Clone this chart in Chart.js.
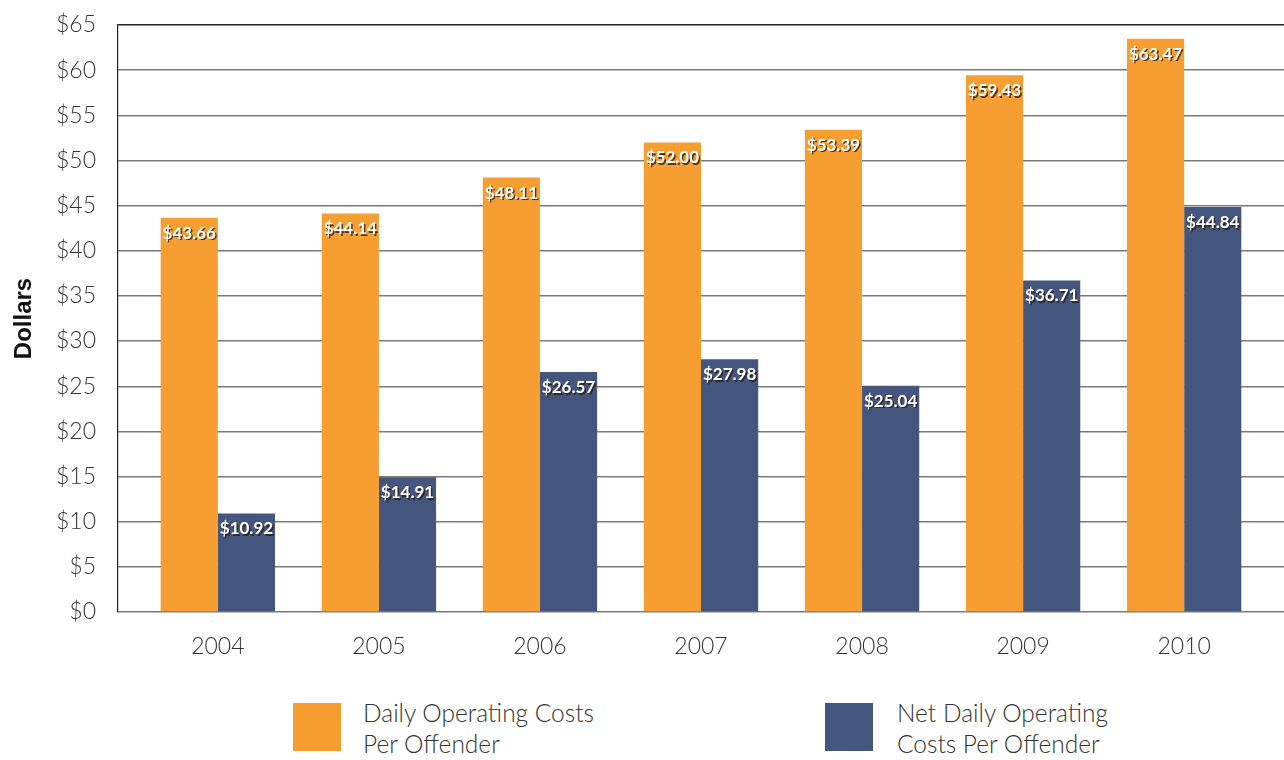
<!DOCTYPE html>
<html>
<head>
<meta charset="utf-8">
<script src="https://cdn.jsdelivr.net/npm/chart.js@4.4.1/dist/chart.umd.min.js"></script>
<style>
  body { margin: 0; background: #fff; }
  #wrap { position: relative; width: 1284px; height: 760px; }
  #box { position: absolute; left: 0; top: 0; width: 1284px; height: 680px; }
  .sw { position: absolute; width: 48px; height: 48px; top: 703px; }
  .lt { position: absolute; top: 697px; font-family: Lato, sans-serif; font-weight: 300;
        font-size: 24.5px; line-height: 31px; color: #333; }
</style>
</head>
<body>
<div id="wrap">
  <div id="box"><canvas id="grafico"></canvas></div>
  <div class="sw" style="left:293px; background:#f79e33;"></div>
  <div class="lt" style="left:363px;">Daily Operating Costs<br>Per Offender</div>
  <div class="sw" style="left:825px; background:#44567e;"></div>
  <div class="lt" style="left:897px;">Net Daily Operating<br>Costs Per Offender</div>
</div>
<script>
const years = ['2004', '2005', '2006', '2007', '2008', '2009', '2010'];
const dailyCosts = [43.66, 44.14, 48.11, 52.00, 53.39, 59.43, 63.47];
const netDailyCosts = [10.92, 14.91, 26.57, 27.98, 25.04, 36.71, 44.84];
const yMax = 65;
const yStep = 5;

// white value labels inside the top of each bar
const barLabels = {
    id: 'barLabels',
    afterDatasetsDraw(chart) {
        const ctx = chart.ctx;
        ctx.save();
        ctx.font = 'bold 17px Lato, sans-serif';
        ctx.textAlign = 'center';
        ctx.textBaseline = 'top';
        ctx.fillStyle = '#fff';
        ctx.shadowColor = 'rgba(40,30,20,0.8)';
        ctx.shadowOffsetX = 1.5;
        ctx.shadowOffsetY = 1.5;
        chart.data.datasets.forEach((ds, i) => {
            chart.getDatasetMeta(i).data.forEach((bar, j) => {
                ctx.fillText('$' + ds.data[j].y.toFixed(2), bar.x, bar.y + 7);
            });
        });
        ctx.restore();
    }
};

const ctx = document.getElementById('grafico').getContext('2d');
new Chart(ctx, {
    type: 'bar',
    data: {
        datasets: [{
            label: 'Daily Operating Costs Per Offender',
            data: dailyCosts.map((v, i) => ({ x: i, y: v })),
            backgroundColor: '#f79e33'
        }, {
            label: 'Net Daily Operating Costs Per Offender',
            data: netDailyCosts.map((v, i) => ({ x: i, y: v })),
            backgroundColor: '#44567e'
        }]
    },
    options: {
        responsive: true,
        maintainAspectRatio: false,
        animation: false,
        categoryPercentage: 0.71,
        barPercentage: 1.0,
        layout: { padding: { top: 25 } },
        plugins: {
            legend: { display: false },
            tooltip: { enabled: false }
        },
        scales: {
            x: {
                type: 'linear',
                offset: false,
                min: -0.62,
                max: 6.62,
                afterBuildTicks: (scale) => { scale.ticks = years.map((y, i) => ({ value: i })); },
                afterFit: (scale) => { scale.height = 68; },
                grid: { display: false },
                border: { display: false },
                ticks: {
                    callback: (v) => years[v],
                    font: { family: 'Lato', size: 23, weight: 300 },
                    color: '#333',
                    padding: 13,
                    maxRotation: 0
                }
            },
            y: {
                min: 0,
                max: yMax,
                afterFit: (scale) => {
                    scale.width = 118;
                    scale.paddingTop = 0;
                    scale.paddingBottom = 0;
                },
                grid: {
                    drawTicks: false,
                    color: (c) => c.tick.value === yMax ? '#222' : '#7a7a7a',
                    lineWidth: 1.4
                },
                border: { color: '#222', width: 1.2 },
                ticks: {
                    stepSize: yStep,
                    callback: (v) => '$' + v,
                    font: { family: 'Lato', size: 23, weight: 300 },
                    color: '#333',
                    padding: 22
                },
                title: {
                    display: true,
                    text: 'Dollars',
                    font: { family: 'Liberation Sans', size: 24, weight: 'bold' },
                    color: '#111',
                    padding: { top: 10, bottom: 0 }
                }
            }
        }
    },
    plugins: [barLabels]
});
</script>
</body>
</html>
